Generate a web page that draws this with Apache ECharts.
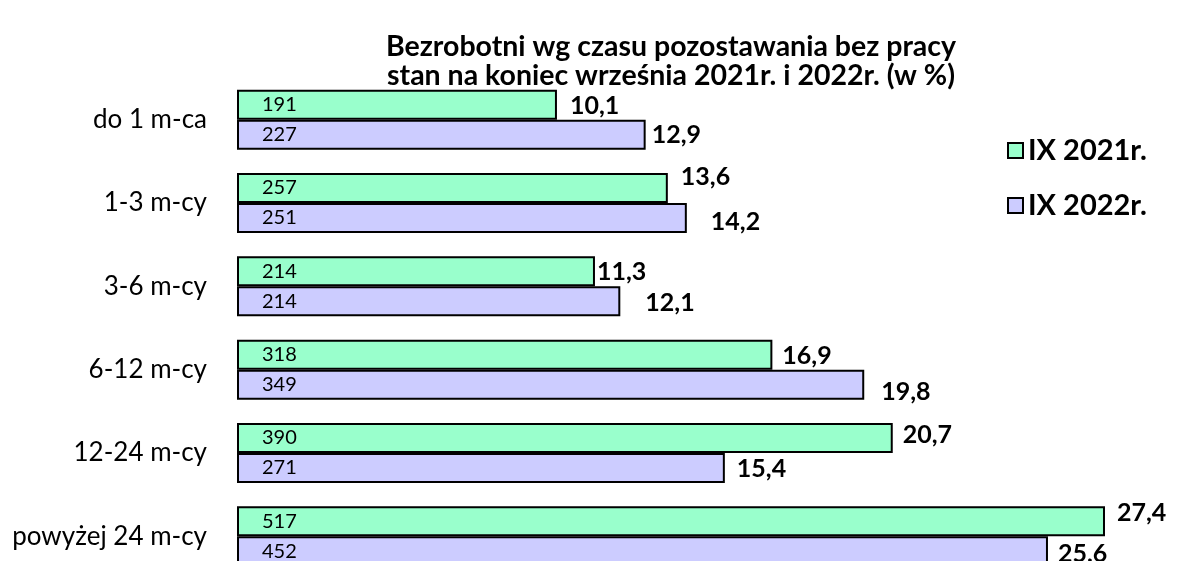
<!DOCTYPE html>
<html>
<head>
<meta charset="utf-8">
<script src="https://cdn.jsdelivr.net/npm/echarts@6/dist/echarts.min.js"></script>
<style>html,body{margin:0;padding:0;background:#fff}#c{width:1182px;height:561px}</style>
</head>
<body>
<div id="c"></div>
<script>
const categories = ['do 1 m-ca', '1-3 m-cy', '3-6 m-cy', '6-12 m-cy', '12-24 m-cy', 'powyżej 24 m-cy'];
const pct2021 = [10.1, 13.6, 11.3, 16.9, 20.7, 27.4];
const pct2022 = [12.9, 14.2, 12.1, 19.8, 15.4, 25.6];
const count2021 = [191, 257, 214, 318, 390, 517];
const count2022 = [227, 251, 214, 349, 271, 452];
const seriesNames = ['IX 2021r.', 'IX 2022r.'];
// label placement tweaks (pixels) for the percentage labels
const offsets2021 = [[13, 1], [13, -11], [2, 1], [10, 1], [10, -3], [12, -8]];
const offsets2022 = [[6, 0], [24, 4], [25, 2], [17, 7], [12, 1], [10, 3]];

const FONT = 'Lato';
const fmtPct = v => String(v.toFixed(1)).replace('.', ',');

function barSeries(name, vals, counts, color) {
  return {
    name: name, type: 'bar', yAxisIndex: 0, barWidth: 30, barGap: '0%',
    data: vals,
    itemStyle: { color: color, borderColor: '#000', borderWidth: 2 },
    label: {
      show: true, position: 'insideLeft', distance: 25,
      fontFamily: FONT, fontSize: 20, color: '#000',
      formatter: p => String(counts[p.dataIndex])
    },
    emphasis: { disabled: true }, silent: true
  };
}
function labelSeries(name, vals, offs) {
  return {
    name: name, type: 'bar', yAxisIndex: 1, barWidth: 30, barGap: '0%',
    data: vals.map((v, i) => ({ value: v, label: { offset: offs[i] } })),
    itemStyle: { color: 'rgba(0,0,0,0)' },
    label: {
      show: true, position: 'right', distance: 0,
      fontFamily: FONT, fontSize: 25, fontWeight: 'bold', color: '#000',
      formatter: p => fmtPct(p.value)
    },
    emphasis: { disabled: true }, silent: true
  };
}

const chart = echarts.init(document.getElementById('c'), null, { renderer: 'canvas' });
chart.setOption({
  animation: false,
  backgroundColor: '#fff',
  title: {
    text: 'Bezrobotni wg czasu pozostawania bez pracy\nstan na koniec września 2021r. i 2022r. (w %)',
    left: 666, top: 27, textAlign: 'center',
    textStyle: { fontFamily: FONT, fontSize: 28.5, fontWeight: 'bold', color: '#000', lineHeight: 29 }
  },
  legend: {
    data: seriesNames, orient: 'vertical', left: 1002, top: 131,
    itemWidth: 15, itemHeight: 15, itemGap: 26, icon: 'rect',
    textStyle: { fontFamily: FONT, fontSize: 29, fontWeight: 'bold', color: '#000' }
  },
  grid: { left: 237, top: 78, width: 887, height: 500, containLabel: false, outerBoundsMode: 'none' },
  xAxis: { type: 'value', min: 0, max: 28, show: false },
  yAxis: [
    { type: 'category', data: categories, inverse: true,
      axisLine: { show: false }, axisTick: { show: false },
      axisLabel: { margin: 30, fontFamily: FONT, fontSize: 26, color: '#000' } },
    { type: 'category', data: categories, inverse: true, show: false }
  ],
  series: [
    barSeries(seriesNames[0], pct2021, count2021, '#99FFCC'),
    barSeries(seriesNames[1], pct2022, count2022, '#CCCCFF'),
    labelSeries('l2021', pct2021, offsets2021),
    labelSeries('l2022', pct2022, offsets2022)
  ]
});
</script>
</body>
</html>
